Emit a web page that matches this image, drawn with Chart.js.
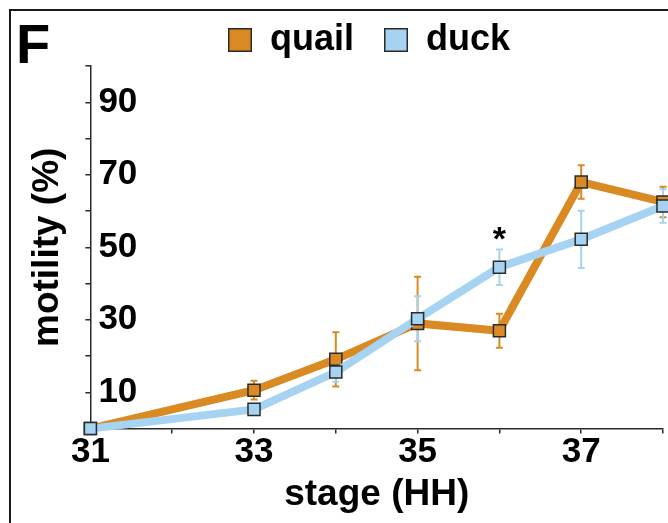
<!DOCTYPE html>
<html>
<head>
<meta charset="utf-8">
<script src="https://cdn.jsdelivr.net/npm/chart.js@4/dist/chart.umd.min.js"></script>
<style>
  html, body { margin: 0; padding: 0; background: #fff; }
  #wrap { width: 668px; height: 523px; position: relative; }
</style>
</head>
<body>
<div id="wrap"><canvas id="c" width="668" height="523"></canvas></div>
<script>
// ---- data ----
const stages      = [31, 33, 34, 35, 36, 37, 38];
const quail       = [0, 10.6, 19.1, 29.0, 27.0, 68.0, 62.5];
const quailErr    = [0, 2.6, 7.5, 12.9, 4.7, 4.6, 4.2];
const duck        = [0, 5.3, 15.6, 30.3, 44.5, 52.2, 61.4];
const duckErr     = [0, 1.2, 2.7, 6.2, 4.9, 7.9, 4.6];
const xTickLabels = [31, 33, 35, 37];
const yTickLabels = [10, 30, 50, 70, 90];
const starStages  = [36];
const seriesNames = ['quail', 'duck'];
const panelLabel  = 'F';
const xTitle      = 'stage (HH)';
const yTitle      = 'motility (%)';

const FONT = '"Liberation Sans", Arial, sans-serif';
const QUAIL_C = '#D98A22';
const DUCK_C  = '#A6D3F1';
const EDGE    = '#2a2a2a';

function pts(vals) { return stages.map((s, i) => ({ x: s, y: vals[i] })); }

const errorBars = {
  id: 'errorBars',
  beforeDatasetsDraw(chart) {
    const ctx = chart.ctx, ys = chart.scales.y;
    chart.data.datasets.forEach((ds, di) => {
      const meta = chart.getDatasetMeta(di);
      ctx.save();
      ctx.strokeStyle = ds.borderColor;
      ctx.lineWidth = 2;
      meta.data.forEach((p, i) => {
        const e = ds.errors[i];
        if (!e) return;
        const v = ds.data[i].y;
        const t = ys.getPixelForValue(v + e), b = ys.getPixelForValue(v - e);
        ctx.beginPath();
        ctx.moveTo(p.x, t); ctx.lineTo(p.x, b);
        ctx.moveTo(p.x - 3.5, t); ctx.lineTo(p.x + 3.5, t);
        ctx.moveTo(p.x - 3.5, b); ctx.lineTo(p.x + 3.5, b);
        ctx.stroke();
      });
      ctx.restore();
    });
  }
};

const decorations = {
  id: 'decorations',
  afterDraw(chart) {
    const ctx = chart.ctx, xs = chart.scales.x, ys = chart.scales.y;
    ctx.save();
    // frame
    ctx.strokeStyle = '#1a1a1a';
    ctx.lineWidth = 2;
    ctx.beginPath();
    ctx.moveTo(10, 523); ctx.lineTo(10, 10); ctx.lineTo(668, 10);
    ctx.stroke();
    // panel letter
    ctx.fillStyle = '#000';
    ctx.font = 'bold 56px ' + FONT;
    ctx.textBaseline = 'alphabetic';
    ctx.textAlign = 'left';
    ctx.fillText(panelLabel, 16, 63);
    // legend
    ctx.font = 'bold 36px ' + FONT;
    let x = 228;
    const box = 24, boxTop = 28;
    chart.data.datasets.forEach((ds) => {
      ctx.fillStyle = ds.backgroundColor;
      ctx.fillRect(x, boxTop, box, box);
      ctx.strokeStyle = EDGE;
      ctx.lineWidth = 1.5;
      ctx.strokeRect(x + 0.75, boxTop + 0.75, box - 1.5, box - 1.5);
      ctx.fillStyle = '#000';
      ctx.textBaseline = 'middle';
      ctx.fillText(ds.label, x + box + 18, boxTop + box / 2);
      x += box + 18 + ctx.measureText(ds.label).width + 30;
    });
    // significance stars
    const duckDs = chart.data.datasets[1];
    starStages.forEach((s) => {
      const i = stages.indexOf(s);
      const top = ys.getPixelForValue(duckDs.data[i].y + duckDs.errors[i]);
      ctx.font = 'bold 34px ' + FONT;
      ctx.textAlign = 'center';
      ctx.textBaseline = 'alphabetic';
      const m = ctx.measureText('*');
      const inkBottom = top - 9;
      ctx.fillStyle = '#000';
      ctx.fillText('*', xs.getPixelForValue(s), inkBottom - m.actualBoundingBoxDescent);
    });
    ctx.restore();
  }
};

new Chart(document.getElementById('c'), {
  type: 'line',
  data: {
    datasets: [
      {
        label: seriesNames[0], data: pts(quail), errors: quailErr,
        borderColor: QUAIL_C, backgroundColor: QUAIL_C,
        borderWidth: 8, pointStyle: 'rect', pointRadius: 8.5,
        pointBorderColor: EDGE, pointBorderWidth: 1.5, pointBackgroundColor: QUAIL_C,
        tension: 0, clip: false, order: 2
      },
      {
        label: seriesNames[1], data: pts(duck), errors: duckErr,
        borderColor: DUCK_C, backgroundColor: DUCK_C,
        borderWidth: 8, pointStyle: 'rect', pointRadius: 8.5,
        pointBorderColor: EDGE, pointBorderWidth: 1.5, pointBackgroundColor: DUCK_C,
        tension: 0, clip: false, order: 1
      }
    ]
  },
  options: {
    responsive: false,
    devicePixelRatio: 1,
    animation: false,
    layout: { autoPadding: false, padding: { top: 66, right: 5, bottom: 6, left: 12 } },
    plugins: { legend: { display: false }, tooltip: { enabled: false } },
    scales: {
      x: {
        type: 'linear', min: 31, max: 38,
        border: { display: true, color: EDGE, width: 1.5 },
        grid: { display: true, drawOnChartArea: false, drawTicks: true, tickLength: 5, color: EDGE, lineWidth: 1.5 },
        ticks: {
          stepSize: 1, autoSkip: false, maxRotation: 0, padding: -2,
          color: '#000', font: { family: FONT, size: 35, weight: 'bold' },
          callback: (v) => xTickLabels.includes(v) ? String(v) : ''
        },
        title: { display: true, text: xTitle, color: '#000', padding: { top: 1, bottom: 0 },
                 font: { family: FONT, size: 37, weight: 'bold' } }
      },
      y: {
        min: 0, max: 100,
        border: { display: true, color: EDGE, width: 1.5 },
        grid: { display: true, drawOnChartArea: false, drawTicks: true, tickLength: 5, color: EDGE, lineWidth: 1.5 },
        ticks: {
          stepSize: 10, mirror: true, padding: 8, autoSkip: false,
          color: '#000', font: { family: FONT, size: 35, weight: 'bold' },
          callback: (v) => yTickLabels.includes(v) ? String(v) : ''
        },
        title: { display: true, text: yTitle, color: '#000', padding: { top: 14, bottom: -1 },
                 font: { family: FONT, size: 37, weight: 'bold' } }
      }
    }
  },
  plugins: [errorBars, decorations]
});
</script>
</body>
</html>
